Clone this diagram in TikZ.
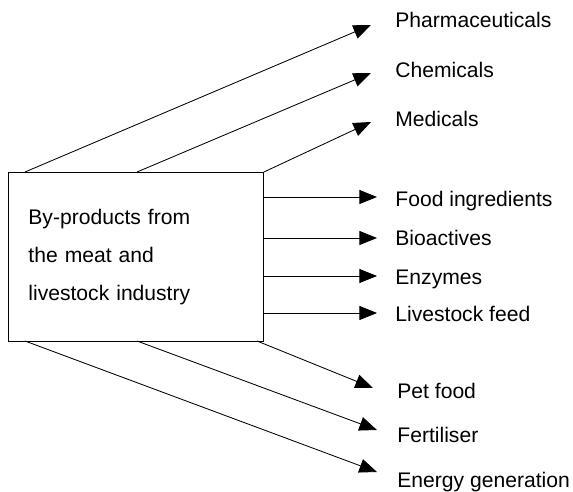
\documentclass[tikz,border=0pt]{standalone}
\usepackage{fontspec}
\setmainfont{Liberation Sans}
\usetikzlibrary{arrows.meta}

\begin{document}
\begin{tikzpicture}[x=0.025cm, y=-0.025cm, line width=0.6pt,
		arr/.style={-{Triangle[length=0.44cm, width=0.35cm]}},
		lbl/.style={anchor=base west, inner sep=0pt, font=\fontsize{15}{18}\selectfont}]
	\useasboundingbox (0,0) rectangle (573,492);
	\node[draw, anchor=north west, minimum height=4.225cm, text width=5.375cm, inner xsep=0.5cm, align=left, font=\fontsize{15}{27}\selectfont] (src) at (8,172) {By-products from\\the meat and\\livestock industry};
	\coordinate (t1) at (25,172);
	\coordinate (t2) at (137,172);
	\coordinate (b1) at (25,341);
	\coordinate (b2) at (137,341);
	\coordinate (b3) at (257,341);
	\foreach \n/\tx/\ty/\lx/\by/\txt in {pharm/371/25/395/28/Pharmaceuticals, chem/371/73/395/78/Chemicals, med/371/122/395/127/Medicals, food/377/197/395/207/Food ingredients, bio/377/238/395/246/Bioactives, enz/377/276/395/285/Enzymes, feed/377/313/395/322/Livestock feed, pet/373/388/397/398/Pet food, fert/377/430/397/442/Fertiliser, energy/377/472/397/487/Energy generation} {
		\coordinate (\n-tip) at (\tx,\ty);
		\node[lbl] (\n) at (\lx,\by) {\txt};
	}
	\draw[arr] (t1) -- (pharm-tip);
	\draw[arr] (t2) -- (chem-tip);
	\draw[arr] (src.north east) -- (med-tip);
	\foreach \n in {food,bio,enz,feed}
		\draw[arr] (src.east |- \n-tip) -- (\n-tip);
	\draw[arr] (b3) -- (pet-tip);
	\draw[arr] (b2) -- (fert-tip);
	\draw[arr] (b1) -- (energy-tip);
\end{tikzpicture}
\end{document}
